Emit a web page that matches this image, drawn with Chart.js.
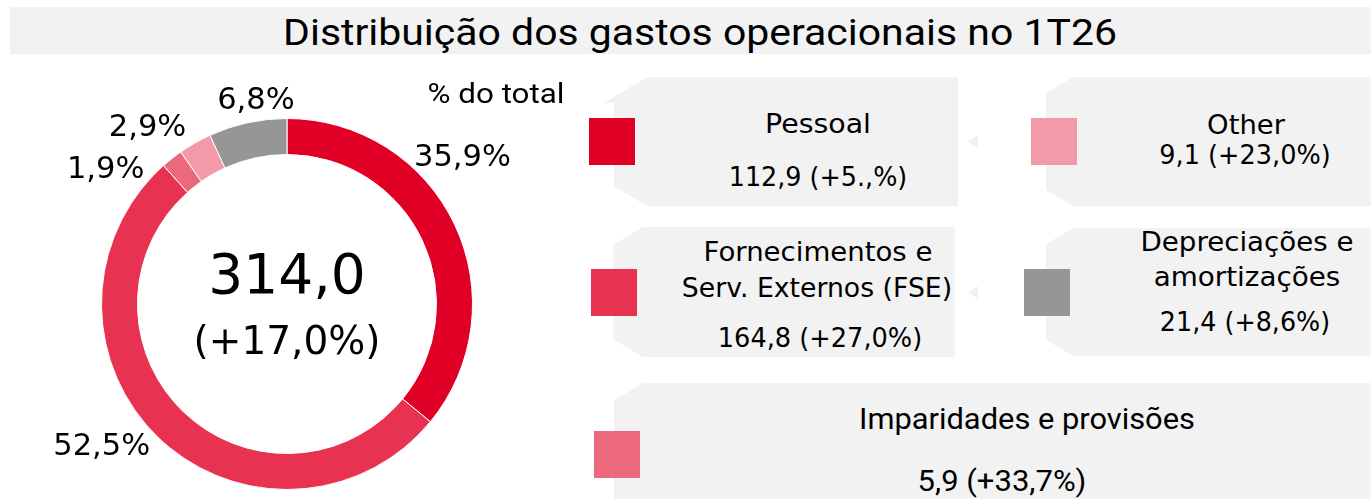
<!DOCTYPE html>
<html lang="pt">
<head>
<meta charset="utf-8">
<script src="https://cdn.jsdelivr.net/npm/chart.js@4.4.1/dist/chart.umd.min.js"></script>
<style>
  body { margin: 0; width: 1371px; height: 499px; background: #fff; position: relative; overflow: hidden; color: #000; font-family: 'DejaVu Sans', sans-serif; }
  #faixa { position: absolute; left: 10px; top: 7px; width: 1361px; height: 47px; background: #f2f2f2; }
  .txt { position: absolute; white-space: nowrap; line-height: 1; transform: translate(-50%, -50%); }
  .estreito { font-family: Roboto, sans-serif; }
  .quad { position: absolute; width: 46px; height: 47px; }
  #formas { position: absolute; left: 0; top: 0; }
  #grafico { position: absolute; left: 0; top: 60px; }
</style>
</head>
<body>
<div id="faixa"></div>
<svg id="formas" width="1371" height="499"></svg>
<canvas id="grafico" width="580" height="439"></canvas>

<script>
const titulo = 'Distribuição dos gastos operacionais no 1T26'
const subtitulo = '% do total'
const categorias = ['Pessoal', 'Fornecimentos e\nServ. Externos (FSE)', 'Imparidades e provisões', 'Other', 'Depreciações e\namortizações']
const valores = [112.9, 164.8, 5.9, 9.1, 21.4]
const variacoes = ['+5.,%', '+27,0%', '+33,7%', '+23,0%', '+8,6%']
const total = 314.0
const variacaoTotal = '+17,0%'

// estilo e posicoes
const cores = ['#e00025', '#e73351', '#ec687c', '#f29aa7', '#969696']
const cinza = '#f2f2f2'
// [ajuste do angulo em graus, distancia / raio externo]
const ajusteRotulos = [[-15, 1.24], [9.2, 1.25], [-14.6, 1.225], [-8.1, 1.225], [3.7, 1.125]]
const caixas = [
  { esq: 614, topo: 77, base: 206, dir: 958, ch: 33, aba: 604, quad: [589, 118], cx: [818, 818], ys: [124, 177], larg: [106, 179], fonte: 26 },
  { esq: 613, topo: 227, base: 357, dir: 955, ch: 30, quad: [591, 269], cx: [818, 817, 820], ys: [252, 288, 338], larg: [229, 270, 204], fonte: 26 },
  { esq: 614, topo: 383, base: 516, dir: 1371, ch: 29, quad: [594, 431], cx: [1027, 1002], ys: [419, 481], larg: [336, 169], fonte: 29, estreito: true },
  { esq: 1046, topo: 77, base: 206, dir: 1371, ch: 27, quad: [1031, 118], cx: [1246, 1245], ys: [125, 155], larg: [78, 171], fonte: 26 },
  { esq: 1046, topo: 228, base: 356, dir: 1371, ch: 27, quad: [1024, 269], cx: [1247, 1247, 1245], ys: [242, 277, 322], larg: [213, 187, 170], fonte: 26 }
]
const setas = [[968, 141.5], [968, 292.5]]

function fmt(v) {
  return v.toFixed(1).replace('.', ',')
}

const textos = []
function addTexto(texto, x, y, tam, estreito, largura) {
  const el = document.createElement('div')
  el.className = 'txt' + (estreito ? ' estreito' : '')
  el.style.left = x + 'px'
  el.style.top = y + 'px'
  el.style.fontSize = tam + 'px'
  el.textContent = texto
  document.body.appendChild(el)
  textos.push([el, largura])
}

function ajustar() {
  textos.forEach(([el, largura]) => {
    if (!largura) return
    const s = largura / el.offsetWidth
    el.style.transform = `translate(-50%, -50%) scaleX(${s})`
  })
}

addTexto(titulo, 700, 33, 36, true, 834)
addTexto(subtitulo, 496, 94, 27, true, 137)

const svg = document.querySelector('#formas')
let formas = ''
caixas.forEach((c, i) => {
  const dy = c.ch * 0.6
  let pts = [[c.esq + c.ch, c.topo]]
  if (c.aba) {
    const ya = c.topo + (c.esq + c.ch - c.aba) * 0.6
    pts.push([c.aba, ya], [c.esq, ya])
  } else {
    pts.push([c.esq, c.topo + dy])
  }
  pts.push([c.esq, c.base - dy], [c.esq + c.ch, c.base], [c.dir, c.base], [c.dir, c.topo])
  formas += `<polygon fill="${cinza}" points="${pts.map(p => p.join(',')).join(' ')}"/>`
})
setas.forEach(s => {
  formas += `<polygon fill="${cinza}" points="${s[0]},${s[1]} ${s[0] + 10},${s[1] - 6.5} ${s[0] + 10},${s[1] + 6.5}"/>`
})
svg.innerHTML = formas

caixas.forEach((c, i) => {
  const q = document.createElement('div')
  q.className = 'quad'
  q.style.left = c.quad[0] + 'px'
  q.style.top = c.quad[1] + 'px'
  q.style.background = cores[i]
  document.body.appendChild(q)
  const linhas = categorias[i].split('\n').concat(fmt(valores[i]) + ' (' + variacoes[i] + ')')
  linhas.forEach((l, k) => addTexto(l, c.cx[k], c.ys[k], c.fonte, c.estreito, c.larg[k]))
})

ajustar()
document.fonts.ready.then(ajustar)

const rotulos = {
  id: 'rotulos',
  afterDraw(chart) {
    const ctx = chart.ctx
    const meta = chart.getDatasetMeta(0)
    const soma = valores.reduce((a, b) => a + b, 0)
    ctx.save()
    ctx.fillStyle = '#000'
    ctx.textAlign = 'center'
    ctx.textBaseline = 'alphabetic'
    const tam = 30.5
    ctx.font = tam + 'px "DejaVu Sans"'
    let cx = 0, cy = 0
    meta.data.forEach((arc, i) => {
      const p = arc.getProps(['x', 'y', 'startAngle', 'endAngle', 'outerRadius'], true)
      cx = p.x
      cy = p.y
      const ang = (p.startAngle + p.endAngle) / 2 + ajusteRotulos[i][0] * Math.PI / 180
      const r = p.outerRadius * ajusteRotulos[i][1]
      ctx.fillText(fmt(valores[i] / soma * 100) + '%', p.x + Math.cos(ang) * r, p.y + Math.sin(ang) * r + tam * 0.3645)
    })
    ctx.font = '55px "DejaVu Sans"'
    ctx.fillText(fmt(total), cx, cy - 11)
    ctx.font = '39px "DejaVu Sans"'
    ctx.fillText('(' + variacaoTotal + ')', cx, cy + 50)
    ctx.restore()
  }
}

new Chart(document.querySelector('#grafico'), {
  type: 'doughnut',
  data: {
    labels: categorias.map(c => c.replace('\n', ' ')),
    datasets: [{
      data: valores,
      backgroundColor: cores,
      borderColor: '#fff',
      borderWidth: 1
    }]
  },
  options: {
    responsive: false,
    animation: false,
    devicePixelRatio: 1,
    cutout: '80.6%',
    layout: { padding: { left: 101, right: 107, top: 58, bottom: 9 } },
    plugins: { legend: { display: false }, tooltip: { enabled: false } }
  },
  plugins: [rotulos]
})
</script>
</body>
</html>
